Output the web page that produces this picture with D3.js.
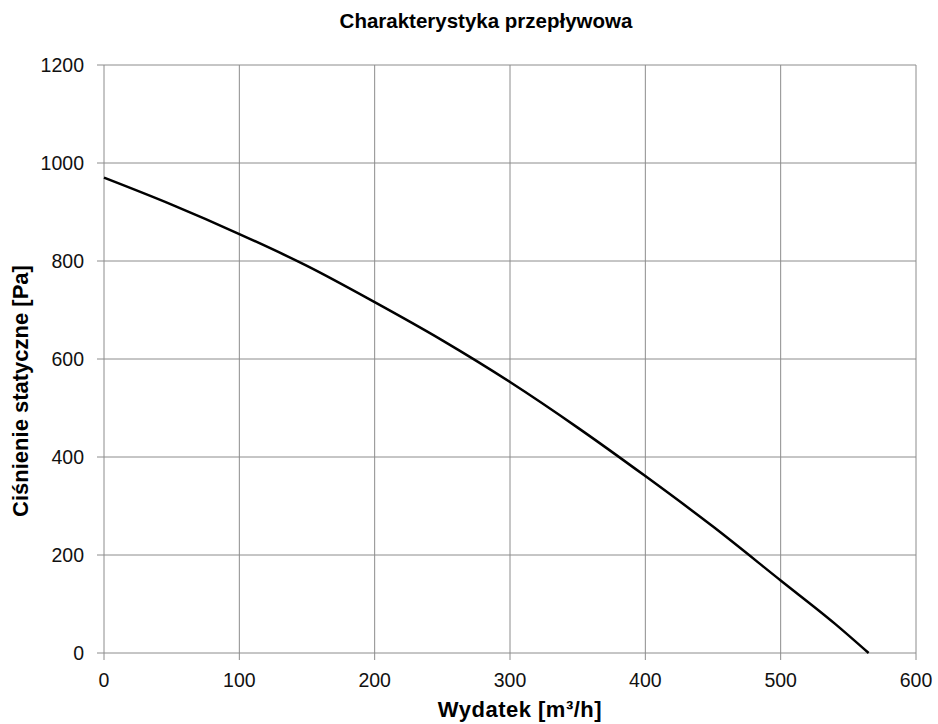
<!DOCTYPE html>
<html><head><meta charset="utf-8">
<script src="https://cdn.jsdelivr.net/npm/d3@7"></script>
<style>body{margin:0;background:#fff}svg text{font-family:"Liberation Sans",Arial,sans-serif}</style>
</head><body><svg id="c" width="938" height="724"></svg>
<script>
const flow = [0, 50, 100, 150, 200, 250, 300, 350, 400, 450, 500, 540, 565];
const pressure = [970, 915, 855, 790, 716, 638, 553, 460, 361, 258, 148, 60, 0];
const xTicks = [0, 100, 200, 300, 400, 500, 600];
const yTicks = [0, 200, 400, 600, 800, 1000, 1200];

const svg = d3.select("#c");
const L = 104, R = 916, T = 65, B = 653;
const x = d3.scaleLinear().domain([0, 600]).range([L, R]);
const y = d3.scaleLinear().domain([0, 1200]).range([B, T]);
const grid = "#8c8c8c";

const g = svg.append("g");
g.selectAll(".vg").data(xTicks).join("line").attr("x1", d => x(d)).attr("x2", d => x(d))
  .attr("y1", T).attr("y2", B + 7).attr("stroke", grid).attr("stroke-width", 1);
g.selectAll(".hg").data(yTicks).join("line").attr("y1", d => y(d)).attr("y2", d => y(d))
  .attr("x1", L - 7).attr("x2", R).attr("stroke", grid).attr("stroke-width", 1);

g.selectAll(".xl").data(xTicks).join("text").attr("x", d => x(d)).attr("y", B + 34)
  .attr("text-anchor", "middle").attr("font-size", 19.5).attr("fill", "#111").text(d => d);
g.selectAll(".yl").data(yTicks).join("text").attr("x", L - 20).attr("y", d => y(d) + 7)
  .attr("text-anchor", "end").attr("font-size", 19.5).attr("fill", "#111").text(d => d);

const pts = flow.map((f, i) => [f, pressure[i]]);
svg.append("path").datum(pts).attr("fill", "none").attr("stroke", "#000").attr("stroke-width", 2.5)
  .attr("d", d3.line().x(d => x(d[0])).y(d => y(d[1])).curve(d3.curveMonotoneX));

svg.append("text").attr("x", 486).attr("y", 28).attr("text-anchor", "middle")
  .attr("font-size", 20.5).attr("font-weight", "bold").text("Charakterystyka przepływowa");
svg.append("text").attr("x", 520).attr("y", 717).attr("text-anchor", "middle")
  .attr("font-size", 22).attr("letter-spacing", 0.5).attr("font-weight", "bold").text("Wydatek [m³/h]");
svg.append("text").attr("transform", "translate(28,391) rotate(-90)").attr("text-anchor", "middle")
  .attr("font-size", 22).attr("font-weight", "bold").text("Ciśnienie statyczne [Pa]");
</script></body></html>
